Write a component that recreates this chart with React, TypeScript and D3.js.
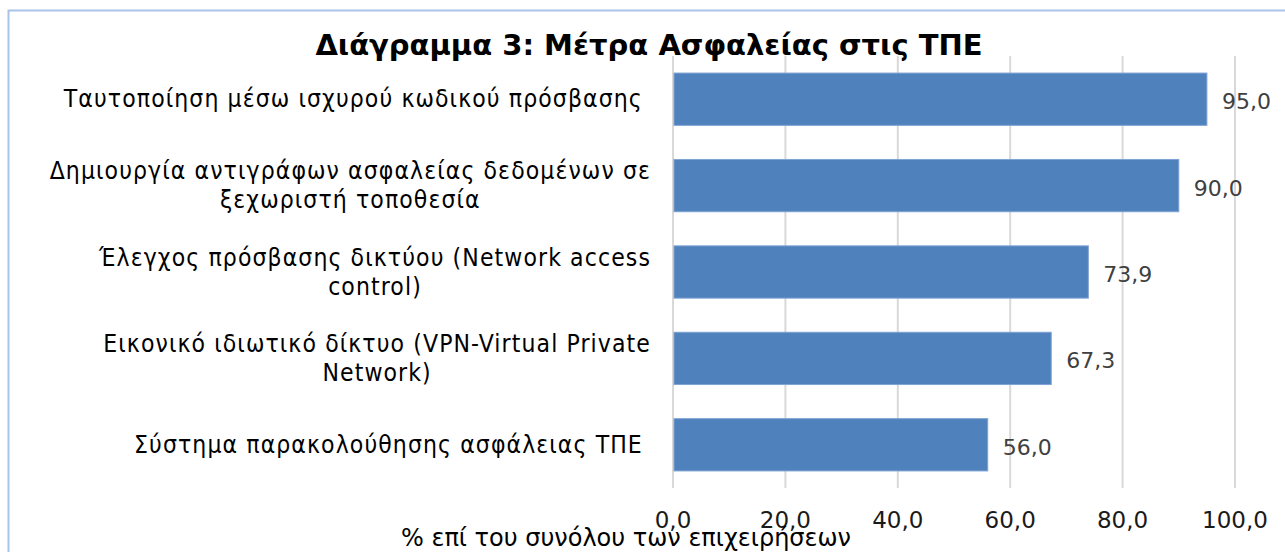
import { useEffect, useRef } from "react";
import * as d3 from "d3";

const title = "Διάγραμμα 3: Μέτρα Ασφαλείας στις ΤΠΕ";
const axisTitle = "% επί του συνόλου των επιχειρήσεων";

// each category split into its display lines
const categories = [
    ["Ταυτοποίηση μέσω ισχυρού κωδικού πρόσβασης "],
    ["Δημιουργία αντιγράφων ασφαλείας δεδομένων σε", "ξεχωριστή τοποθεσία"],
    ["Έλεγχος πρόσβασης δικτύου (Network access", "control)"],
    ["Εικονικό ιδιωτικό δίκτυο (VPN-Virtual Private", "Network)"],
    ["Σύστημα παρακολούθησης ασφάλειας ΤΠΕ "],
];
const values = [95.0, 90.0, 73.9, 67.3, 56.0];
const xTicks = [0, 20, 40, 60, 80, 100];

const fmt = (v: number) => v.toFixed(1).replace(".", ",");

export default function App() {
    const svgRef = useRef<SVGSVGElement>(null);

    useEffect(() => {
        const svg = d3.select(svgRef.current);
        svg.selectAll("*").remove();

        const width = 1285;
        const height = 552;
        const plot = { left: 673, right: 1235, top: 56, bottom: 488 };

        // chart frame
        svg.append("rect")
            .attr("x", 8.5)
            .attr("y", 10.5)
            .attr("width", width + 20)
            .attr("height", height + 20)
            .attr("fill", "#fff")
            .attr("stroke", "#a9c3e9")
            .attr("stroke-width", 2);

        const ids = categories.map((_, i) => String(i));

        const x = d3.scaleLinear().domain([0, 100]).range([plot.left, plot.right]);
        const y = d3
            .scaleBand()
            .domain(ids)
            .range([plot.top, plot.bottom])
            .paddingInner(0.395)
            .paddingOuter(0.1975);

        // grid
        svg.append("g")
            .selectAll("line")
            .data(xTicks)
            .enter()
            .append("line")
            .attr("x1", (d) => x(d))
            .attr("x2", (d) => x(d))
            .attr("y1", plot.top)
            .attr("y2", plot.bottom)
            .attr("stroke", "#d9d9d9")
            .attr("stroke-width", 2);

        // bars
        svg.append("g")
            .selectAll("rect")
            .data(values)
            .enter()
            .append("rect")
            .attr("x", x(0) + 1)
            .attr("y", (_, i) => y(ids[i])!)
            .attr("width", (d) => x(d) - x(0) - 1)
            .attr("height", y.bandwidth())
            .attr("fill", "#4f81bd")
            .attr("stroke", "#7fa3d3")
            .attr("stroke-width", 1);

        // value labels
        svg.append("g")
            .selectAll("text")
            .data(values)
            .enter()
            .append("text")
            .attr("x", (d) => x(d) + 15)
            .attr("y", (_, i) => y(ids[i])! + y.bandwidth() / 2 + 10)
            .attr("font-family", "DejaVu Sans, Verdana, sans-serif")
            .attr("font-size", 22)
            .attr("fill", "#404040")
            .text((d) => fmt(d));

        // x tick labels
        svg.append("g")
            .selectAll("text")
            .data(xTicks)
            .enter()
            .append("text")
            .attr("x", (d) => x(d))
            .attr("y", 528)
            .attr("text-anchor", "middle")
            .attr("font-family", "DejaVu Sans, Verdana, sans-serif")
            .attr("font-size", 23)
            .attr("fill", "#1a1a1a")
            .text((d) => fmt(d));

        // category labels: lines centred within a block right-aligned at 650
        const catG = svg.append("g");
        categories.forEach((lines, i) => {
            const g = catG.append("g");
            const lineH = 29;
            const cy = y(ids[i])! + y.bandwidth() / 2;
            const top = cy - ((lines.length - 1) * lineH) / 2;
            const texts = lines.map((line, j) =>
                g.append("text")
                    .attr("y", top + j * lineH + 8)
                    .attr("text-anchor", "middle")
                    .attr("font-family", "DejaVu Sans Condensed, sans-serif")
                    .attr("font-size", 24.5)
                    .attr("letter-spacing", 1.1)
                    .attr("fill", "#000")
                    .style("white-space", "pre")
                    .text(line)
            );
            const maxW = d3.max(texts, (t) => (t.node() as SVGTextElement).getComputedTextLength()) || 0;
            texts.forEach((t) => t.attr("x", 651 - maxW / 2));
        });

        // title
        svg.append("text")
            .attr("x", 649)
            .attr("y", 55)
            .attr("text-anchor", "middle")
            .attr("font-family", "DejaVu Sans, sans-serif")
            .attr("font-weight", "bold")
            .attr("font-size", 29)
            .attr("fill", "#000")
            .text(title);

        // axis title
        svg.append("text")
            .attr("x", 626)
            .attr("y", 546)
            .attr("text-anchor", "middle")
            .attr("font-family", "DejaVu Sans, Verdana, sans-serif")
            .attr("font-size", 24)
            .attr("fill", "#000")
            .text(axisTitle);
    }, []);

    return (
        <svg
            ref={svgRef}
            width={1285}
            height={552}
            style={{ position: "absolute", left: 0, top: 0, background: "#fff" }}
        />
    );
}
